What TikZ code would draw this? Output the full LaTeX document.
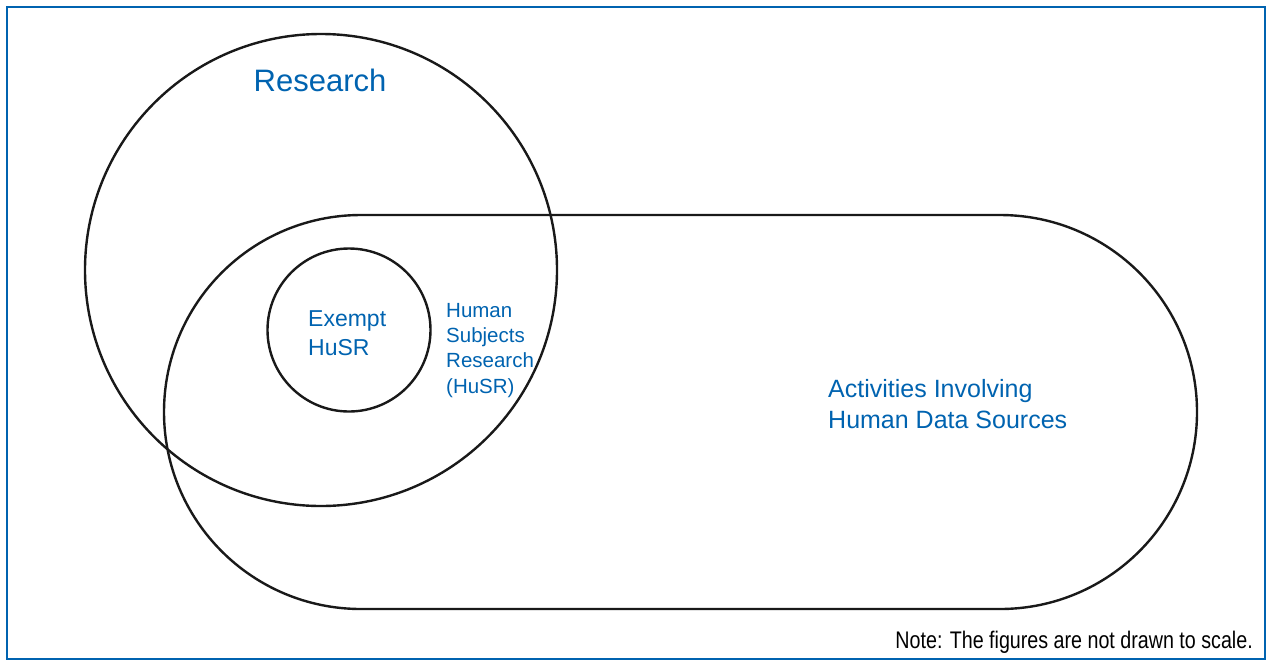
\documentclass[tikz,border=0pt]{standalone}
\usepackage{fontspec}
\setmainfont{Liberation Sans}
\newfontfamily\notefont[FakeStretch=0.82]{Liberation Sans}
\usepackage{tikz}
\definecolor{husrblue}{RGB}{0,99,176}

\tikzset{
  frame/.style={draw=husrblue, line width=2pt},
  setline/.style={draw=black!90, line width=2.4pt},
  label/.style={text=husrblue, inner sep=0pt, align=left}
}

\begin{document}
\begin{tikzpicture}[x=1pt, y=-1pt]

	% page frame
	\useasboundingbox (0,0) rectangle (1268,662);
	\draw [frame] (7,7) rectangle (1265,659);

	% the three sets
	\draw [setline] (321,270) circle [radius=236];
	\draw [setline] (361,215) -- (1000,215) arc (-90:90:197) -- (361,609) arc (90:270:197) -- cycle;
	\draw [setline] (349,330) circle [radius=81.5];

	% labels (base = last line)
	\node (research) [label, anchor=base, font=\fontsize{31}{36}\selectfont] at (320,91) {Research};
	\node (exempt) [label, anchor=base west, font=\fontsize{23}{28.5}\selectfont] at (308,355) {Exempt\\HuSR};
	\node (husr) [label, anchor=base west, font=\fontsize{20.5}{25.3}\selectfont] at (446,393) {Human\\Subjects\\Research\\(HuSR)};
	\node (activities) [label, anchor=base west, font=\fontsize{25}{30.5}\selectfont] at (828,428) {Activities Involving\\Human Data Sources};

	\node (note) [anchor=base east, inner sep=0pt, font=\notefont\fontsize{24}{28}\selectfont] at (1253,648) {Note: The figures are not drawn to scale.};

\end{tikzpicture}
\end{document}
